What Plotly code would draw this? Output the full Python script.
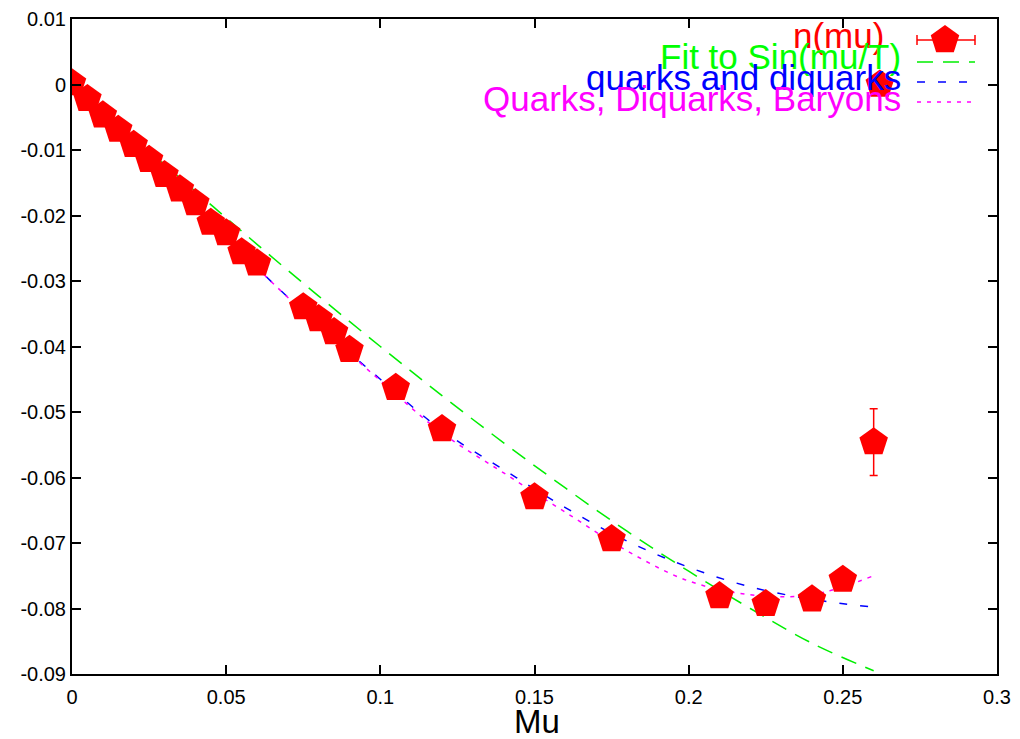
import plotly.graph_objects as go

# ---- data ----
mu_data = [0.0, 0.005, 0.01, 0.015, 0.02, 0.025, 0.03, 0.035, 0.04, 0.045, 0.05,
           0.055, 0.06, 0.075, 0.08, 0.085, 0.09, 0.105, 0.12, 0.15, 0.175,
           0.21, 0.225, 0.24, 0.25, 0.26, 0.262]
n_data = [0.0002, -0.0022, -0.0047, -0.0069, -0.0092, -0.0115, -0.0138, -0.0160,
          -0.0181, -0.0211, -0.0227, -0.0256, -0.0273, -0.0340, -0.0358, -0.0378,
          -0.0405, -0.0463, -0.0526, -0.0630, -0.0694, -0.0781, -0.0793, -0.0786,
          -0.0756, -0.0546, 0.0]
n_err = [0.0002, 0.0002, 0.0002, 0.0002, 0.0002, 0.0002, 0.0002, 0.0002, 0.0002,
         0.0002, 0.0002, 0.0002, 0.0002, 0.0003, 0.0003, 0.0003, 0.0003, 0.0004,
         0.0004, 0.0005, 0.0006, 0.0008, 0.0008, 0.0009, 0.0010, 0.0051, 0.0010]

mu_curve = [0.0, 0.02, 0.04, 0.06, 0.08, 0.10, 0.12, 0.14, 0.16, 0.18, 0.20, 0.22, 0.24, 0.26]
fit_sin = [0.0, -0.0082, -0.0163, -0.0244, -0.0323, -0.0400, -0.0475, -0.0547,
           -0.0616, -0.0682, -0.0743, -0.0800, -0.0853, -0.0895]
quarks_diquarks = [0.0, -0.0093, -0.0187, -0.0280, -0.0368, -0.0450, -0.0528, -0.0588,
                   -0.0646, -0.0697, -0.0737, -0.0767, -0.0786, -0.0798]
quarks_diq_baryons = [0.0, -0.0093, -0.0187, -0.0280, -0.0369, -0.0452, -0.0532, -0.0593,
                      -0.0653, -0.0712, -0.0758, -0.0779, -0.0779, -0.0750]

x_ticks = [0, 0.05, 0.1, 0.15, 0.2, 0.25, 0.3]
x_tick_labels = ["0", "0.05", "0.1", "0.15", "0.2", "0.25", "0.3"]
y_ticks = [0.01, 0, -0.01, -0.02, -0.03, -0.04, -0.05, -0.06, -0.07, -0.08, -0.09]
y_tick_labels = ["0.01", "0", "-0.01", "-0.02", "-0.03", "-0.04", "-0.05", "-0.06",
                 "-0.07", "-0.08", "-0.09"]

legend_labels = ["n(mu)", "Fit to Sin(mu/T)", "quarks and diquarks", "Quarks, Diquarks, Baryons"]
legend_colors = ["#ff0000", "#00ff00", "#0000ff", "#ff00ff"]

FONT = "Liberation Sans, Arial, sans-serif"
W, H = 1020, 739
OFF = 8  # page body margin
# plot area in screen pixels: x 72..997, y 19..674
L, T = 72 - OFF, 19 - OFF
R = W - (997 - OFF)
B = H - (674 - OFF)
pw, ph = W - L - R, H - T - B


def px(xs):
    return (xs - OFF - L) / pw


def py(ys):
    return (H - B - (ys - OFF)) / ph


fig = go.Figure()

fig.add_trace(go.Scatter(x=mu_curve, y=fit_sin, mode="lines", line_shape="spline",
                         line=dict(color="#00ee00", width=1.5, dash="16px,10px"),
                         showlegend=False))
fig.add_trace(go.Scatter(x=mu_curve, y=quarks_diquarks, mode="lines", line_shape="spline",
                         line=dict(color="#0000ff", width=1.5, dash="8px,13px"),
                         showlegend=False))
fig.add_trace(go.Scatter(x=mu_curve, y=quarks_diq_baryons, mode="lines", line_shape="spline",
                         line=dict(color="#ff00ff", width=1.5, dash="4px,6px"),
                         showlegend=False))
fig.add_trace(go.Scatter(x=mu_data, y=n_data, mode="markers",
                         marker=dict(symbol="pentagon", size=30, color="#ff0000",
                                     line=dict(width=0)),
                         error_y=dict(type="data", array=n_err, color="#ff0000",
                                      thickness=1.5, width=4),
                         showlegend=False))

# legend sample marker on an overlay axis spanning the plot area
fig.add_trace(go.Scatter(x=[px(945)], y=[py(40)], mode="markers", xaxis="x2", yaxis="y2",
                         marker=dict(symbol="pentagon", size=30, color="#ff0000"),
                         showlegend=False, hoverinfo="skip"))

axis_common = dict(showline=True, linecolor="black", linewidth=2, mirror="ticks",
                   ticks="inside", ticklen=9, tickwidth=2, tickcolor="black",
                   showgrid=False, zeroline=False,
                   tickfont=dict(family=FONT, size=20, color="black"))

fig.update_layout(
    width=W, height=H,
    margin=dict(l=L, r=R, t=T, b=B, autoexpand=False),
    paper_bgcolor="white", plot_bgcolor="white",
    showlegend=False,
    xaxis=dict(range=[0, 0.3], tickvals=x_ticks, ticktext=x_tick_labels,
               ticklabelstandoff=4, **axis_common),
    yaxis=dict(range=[-0.09, 0.01], tickvals=y_ticks, ticktext=y_tick_labels, **axis_common),
    xaxis2=dict(range=[0, 1], overlaying="x", visible=False),
    yaxis2=dict(range=[0, 1], overlaying="y", visible=False),
)

# x-axis title
fig.add_annotation(x=px(537), y=py(721), xref="paper", yref="paper", text="Mu",
                   showarrow=False, xanchor="center", yanchor="middle",
                   font=dict(family=FONT, size=33, color="black"))

# manual gnuplot-style key (text right-aligned, sample on the right)
text_right = [886, 903, 903, 903]
text_y = [36, 56, 77, 98]
for lab, col, xr, yc in zip(legend_labels, legend_colors, text_right, text_y):
    fig.add_annotation(x=px(xr), y=py(yc), xref="paper", yref="paper", text=lab,
                       showarrow=False, xanchor="right", yanchor="middle",
                       font=dict(family=FONT, size=35, color=col))

# error-bar sample
fig.add_shape(type="line", xref="paper", yref="paper", x0=px(917), x1=px(975),
              y0=py(40), y1=py(40), line=dict(color="#ff0000", width=1.5))
for xx in (917, 975):
    fig.add_shape(type="line", xref="paper", yref="paper", x0=px(xx), x1=px(xx),
                  y0=py(35), y1=py(45), line=dict(color="#ff0000", width=1.5))
# line samples
fig.add_shape(type="line", xref="paper", yref="paper", x0=px(917), x1=px(975),
              y0=py(62), y1=py(62), line=dict(color="#00ee00", width=1.5, dash="16px,10px"))
fig.add_shape(type="line", xref="paper", yref="paper", x0=px(917), x1=px(975),
              y0=py(82), y1=py(82), line=dict(color="#0000ff", width=1.5, dash="8px,13px"))
fig.add_shape(type="line", xref="paper", yref="paper", x0=px(917), x1=px(975),
              y0=py(102), y1=py(102), line=dict(color="#ff00ff", width=1.5, dash="4px,6px"))

fig.write_html("out.html")
